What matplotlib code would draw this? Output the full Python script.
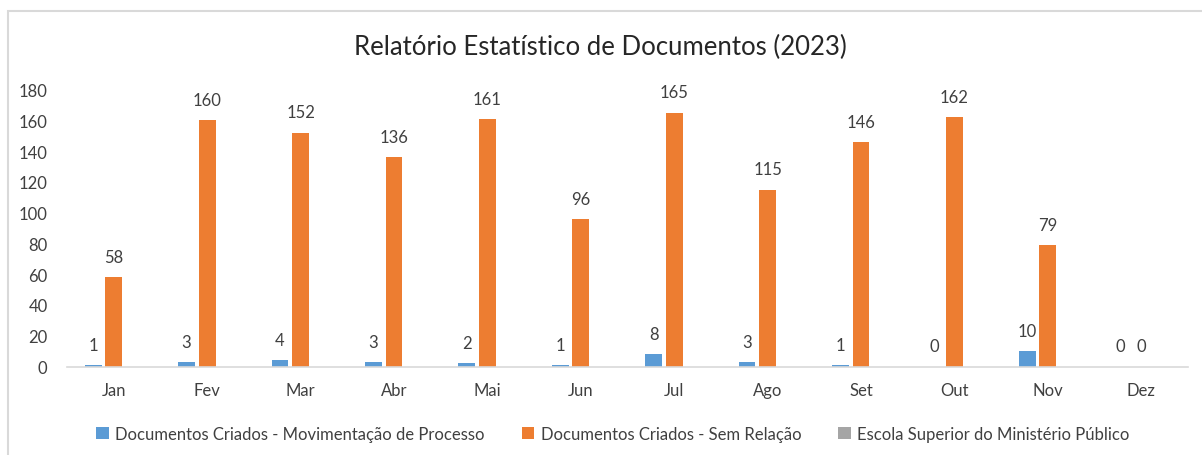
import numpy as np
import matplotlib.pyplot as plt
from matplotlib.patches import Rectangle

# --- data ---
months = ["Jan", "Fev", "Mar", "Abr", "Mai", "Jun", "Jul", "Ago", "Set", "Out", "Nov", "Dez"]
mov_processo = [1, 3, 4, 3, 2, 1, 8, 3, 1, 0, 10, 0]
sem_relacao = [58, 160, 152, 136, 161, 96, 165, 115, 146, 162, 79, 0]
escola_superior = [0, 0, 0, 0, 0, 0, 0, 0, 0, 0, 0, 0]

series_names = [
    "Documentos Criados - Movimentação de Processo",
    "Documentos Criados - Sem Relação",
    "Escola Superior do Ministério Público",
]
colors = ["#5B9BD5", "#ED7D31", "#A5A5A5"]

TEXT = "#404040"
plt.rcParams['font.family'] = ['Lato', 'DejaVu Sans']

W, H = 1202, 456
fig = plt.figure(figsize=(W / 100, H / 100), dpi=100)

# chart border (light gray), only top and left edges are inside the picture
top_y = 1 - 11.5 / H
fig.patches.append(Rectangle((7.5 / W, -0.5), 1.2, top_y + 0.5, transform=fig.transFigure,
                             fill=False, edgecolor="#D9D9D9", linewidth=1.5))

# plot area in pixels
left, right = 67, 1188
y0, y180 = 367.5, 90.5
ax = fig.add_axes([left / W, (H - y0) / H, (right - left) / W, (y0 - y180) / H])

x = np.arange(len(months))
bw = 0.18
off = 0.22

b1 = ax.bar(x - off, mov_processo, bw, color=colors[0], label=series_names[0])
b2 = ax.bar(x, sem_relacao, bw, color=colors[1], label=series_names[1])
b3 = ax.bar(x + off, escola_superior, bw, color=colors[2], label=series_names[2])

for bars, vals in [(b1, mov_processo), (b2, sem_relacao)]:
    for rect, v in zip(bars, vals):
        ax.annotate(str(v), (rect.get_x() + rect.get_width() / 2, v),
                    xytext=(0, 14.5), textcoords="offset points",
                    ha="center", va="center", fontsize=12, color=TEXT)

ax.set_xlim(-0.5, len(months) - 0.5)
ax.set_ylim(0, 180)
ax.set_yticks(range(0, 181, 20))
ax.set_xticks(x)
ax.set_xticklabels(months)
ax.tick_params(axis="both", length=0, labelsize=12, labelcolor=TEXT)
ax.tick_params(axis="x", pad=11)
ax.tick_params(axis="y", pad=14)

for s in ["top", "right", "left"]:
    ax.spines[s].set_visible(False)
ax.spines["bottom"].set_color("#D9D9D9")
ax.spines["bottom"].set_linewidth(1.2)

fig.text(600 / W, 1 - 47 / H, "Relatório Estatístico de Documentos (2023)",
         ha="center", va="center", fontsize=18.5, color="#262626")

fig.legend(handles=[b1, b2, b3], loc="center", bbox_to_anchor=(613 / W, 21 / H),
           ncol=3, frameon=False, fontsize=12, handlelength=0.75, handleheight=0.75,
           handletextpad=0.4, columnspacing=2.2, labelcolor=TEXT)

fig.savefig("out.png", dpi=100)
